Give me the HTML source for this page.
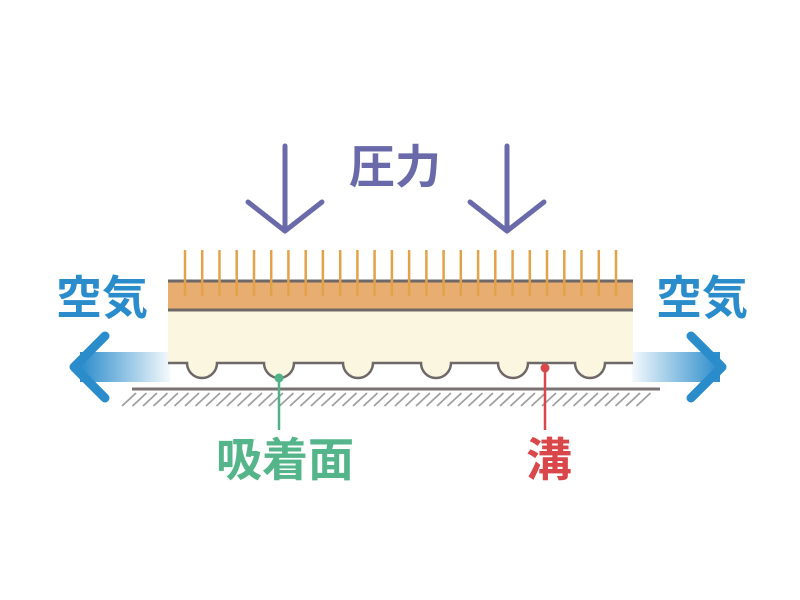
<!DOCTYPE html>
<html><head><meta charset="utf-8"><style>
html,body{margin:0;padding:0;background:#fff;width:800px;height:600px;overflow:hidden}
text{font-family:"Liberation Sans","Noto Sans CJK JP",sans-serif;font-weight:bold}
</style></head><body>
<svg width="800" height="600" viewBox="0 0 800 600" xmlns="http://www.w3.org/2000/svg">
<defs>
<linearGradient id="gl" x1="0" x2="1" y1="0" y2="0"><stop offset="0" stop-color="#2a8ccb"/><stop offset="1" stop-color="#2a8ccb" stop-opacity="0.05"/></linearGradient>
<linearGradient id="gr" x1="1" x2="0" y1="0" y2="0"><stop offset="0" stop-color="#2a8ccb"/><stop offset="1" stop-color="#2a8ccb" stop-opacity="0.05"/></linearGradient>
</defs>
<!-- ground -->
<path d="M122 406 l14 -13 m-3.5 13 l14 -13 m-3.5 13 l14 -13 m-3.5 13 l14 -13 m-3.5 13 l14 -13 m-3.5 13 l14 -13 m-3.5 13 l14 -13 m-3.5 13 l14 -13 m-3.5 13 l14 -13 m-3.5 13 l14 -13 m-3.5 13 l14 -13 m-3.5 13 l14 -13 m-3.5 13 l14 -13 m-3.5 13 l14 -13 m-3.5 13 l14 -13 m-3.5 13 l14 -13 m-3.5 13 l14 -13 m-3.5 13 l14 -13 m-3.5 13 l14 -13 m-3.5 13 l14 -13 m-3.5 13 l14 -13 m-3.5 13 l14 -13 m-3.5 13 l14 -13 m-3.5 13 l14 -13 m-3.5 13 l14 -13 m-3.5 13 l14 -13 m-3.5 13 l14 -13 m-3.5 13 l14 -13 m-3.5 13 l14 -13 m-3.5 13 l14 -13 m-3.5 13 l14 -13 m-3.5 13 l14 -13 m-3.5 13 l14 -13 m-3.5 13 l14 -13 m-3.5 13 l14 -13 m-3.5 13 l14 -13 m-3.5 13 l14 -13 m-3.5 13 l14 -13 m-3.5 13 l14 -13 m-3.5 13 l14 -13 m-3.5 13 l14 -13 m-3.5 13 l14 -13 m-3.5 13 l14 -13 m-3.5 13 l14 -13 m-3.5 13 l14 -13 m-3.5 13 l14 -13 m-3.5 13 l14 -13 m-3.5 13 l14 -13 m-3.5 13 l14 -13 m-3.5 13 l14 -13" fill="none" stroke="#a0a0a0" stroke-width="1.8"/>
<line x1="132" y1="389" x2="660" y2="389" stroke="#7a7272" stroke-width="3"/>
<!-- air arrows -->
<rect x="80" y="352" width="90" height="30" fill="url(#gl)"/>
<polyline points="105,336 74,367 105,398" fill="none" stroke="#2a8ccb" stroke-width="9" stroke-linecap="round" stroke-linejoin="round"/>
<rect x="632" y="352" width="88" height="30" fill="url(#gr)"/>
<polyline points="691,336 722,367 691,398" fill="none" stroke="#2a8ccb" stroke-width="9" stroke-linecap="round" stroke-linejoin="round"/>
<!-- body -->
<rect x="168" y="281" width="465" height="29" fill="#e8ad70"/>
<path d="M168 310 H633 V363 H605 A15 15 0 0 1 575 363 H528 A15 15 0 0 1 498 363 H451 A15 15 0 0 1 421 363 H373 A15 15 0 0 1 343 363 H294 A15 15 0 0 1 264 363 H217 A15 15 0 0 1 187 363 H168 Z" fill="#fbf6e0"/>
<path d="M168 363 H187 A15 15 0 0 0 217 363 H264 A15 15 0 0 0 294 363 H343 A15 15 0 0 0 373 363 H421 A15 15 0 0 0 451 363 H498 A15 15 0 0 0 528 363 H575 A15 15 0 0 0 605 363 H633" fill="none" stroke="#6f6868" stroke-width="2.5"/>
<line x1="168" y1="281" x2="633" y2="281" stroke="#6f6868" stroke-width="3"/>
<line x1="168" y1="310" x2="633" y2="310" stroke="#6f6868" stroke-width="3"/>
<g stroke="#e3a24a" stroke-width="2.5">
<line x1="185" y1="250" x2="185" y2="296"/><line x1="202.2" y1="250" x2="202.2" y2="296"/><line x1="219.5" y1="250" x2="219.5" y2="296"/><line x1="236.7" y1="250" x2="236.7" y2="296"/><line x1="254" y1="250" x2="254" y2="296"/><line x1="271.2" y1="250" x2="271.2" y2="296"/><line x1="288.4" y1="250" x2="288.4" y2="296"/><line x1="305.7" y1="250" x2="305.7" y2="296"/><line x1="322.9" y1="250" x2="322.9" y2="296"/><line x1="340.2" y1="250" x2="340.2" y2="296"/><line x1="357.4" y1="250" x2="357.4" y2="296"/><line x1="374.6" y1="250" x2="374.6" y2="296"/><line x1="391.9" y1="250" x2="391.9" y2="296"/><line x1="409.1" y1="250" x2="409.1" y2="296"/><line x1="426.4" y1="250" x2="426.4" y2="296"/><line x1="443.6" y1="250" x2="443.6" y2="296"/><line x1="460.8" y1="250" x2="460.8" y2="296"/><line x1="478.1" y1="250" x2="478.1" y2="296"/><line x1="495.3" y1="250" x2="495.3" y2="296"/><line x1="512.6" y1="250" x2="512.6" y2="296"/><line x1="529.8" y1="250" x2="529.8" y2="296"/><line x1="547" y1="250" x2="547" y2="296"/><line x1="564.3" y1="250" x2="564.3" y2="296"/><line x1="581.5" y1="250" x2="581.5" y2="296"/><line x1="598.8" y1="250" x2="598.8" y2="296"/><line x1="616" y1="250" x2="616" y2="296"/>
</g>
<!-- pressure arrows -->
<g fill="none" stroke="#6a6aaa" stroke-width="5" stroke-linecap="round" stroke-linejoin="round">
<line x1="285" y1="146" x2="285" y2="230"/><polyline points="248,202 285,231 322,202"/>
<line x1="507" y1="146" x2="507" y2="230"/><polyline points="470,202 507,231 544,202"/>
</g>
<text x="395" y="183" font-size="46" fill="#6a6aaa" text-anchor="middle">圧力</text>
<text x="102" y="314" font-size="46" fill="#2a8ccb" text-anchor="middle">空気</text>
<text x="702" y="314" font-size="46" fill="#2a8ccb" text-anchor="middle">空気</text>
<!-- leaders -->
<line x1="279" y1="378" x2="279" y2="430" stroke="#4fb387" stroke-width="2.5"/>
<circle cx="279" cy="378" r="4.5" fill="#4fb387"/>
<line x1="545" y1="368" x2="545" y2="430" stroke="#d9474a" stroke-width="2.5"/>
<circle cx="545" cy="368" r="4.5" fill="#d9474a"/>
<text x="285" y="476" font-size="46" fill="#55b58a" text-anchor="middle">吸着面</text>
<text x="549" y="476" font-size="46" fill="#d9474a" text-anchor="middle">溝</text>
</svg>
</body></html>
